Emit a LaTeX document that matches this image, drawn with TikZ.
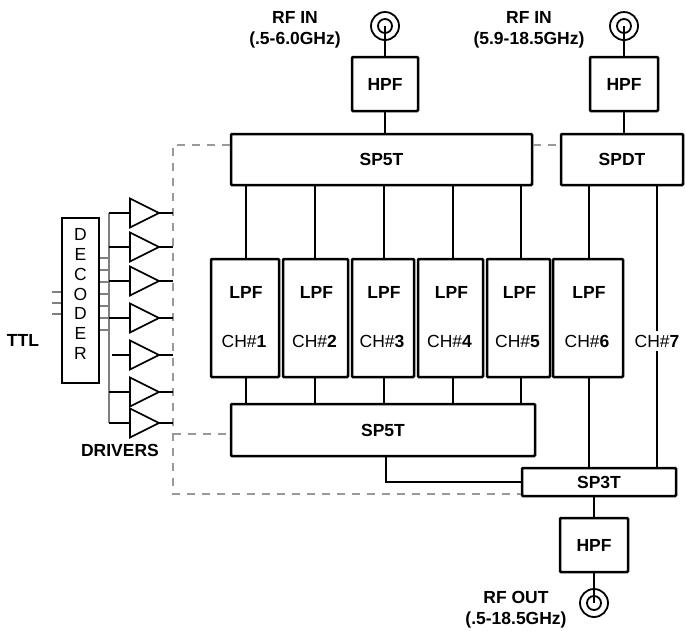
\documentclass[tikz,border=0pt]{standalone}
\usepackage{fontspec}
\setmainfont{Liberation Sans}
\usetikzlibrary{calc}
\newcommand\myfs{\fontsize{17.5}{20.5}\selectfont}
\newcommand\myfsdec{\fontsize{17.5}{19.7}\selectfont}
\begin{document}
\begin{tikzpicture}[x=1pt,y=-1pt,
  blk/.style={draw, line width=2.5pt, rounded corners=1pt, inner sep=0pt, font=\myfs\bfseries},
  wire/.style={line width=2.3pt},
  thinw/.style={line width=1.7pt},
  grayw/.style={line width=1.7pt, draw=gray},
  ctrl/.style={line width=1.1pt, draw=gray!80, dash pattern=on 8pt off 7pt},
  lbl/.style={font=\myfs\bfseries, inner sep=0pt, align=center},
  chl/.style={font=\myfs, inner sep=0pt},
  conn/.style={circle, draw, line width=1.8pt, inner sep=0pt},
]
\useasboundingbox (0,0) rectangle (686,630);

% connectors
\foreach \n/\x/\y in {c1/385/26, c2/624/26, c3/594/603}{
  \node[conn, minimum size=28pt] (\n) at (\x,\y) {};
  \node[conn, minimum size=14pt] (\n i) at (\x,\y) {};
}

% blocks
\node[blk, minimum width=66pt, minimum height=54pt] (hpf1) at (385,84) {HPF};
\node[blk, minimum width=68pt, minimum height=54pt] (hpf2) at (624,84) {HPF};
\node[blk, minimum width=301pt, minimum height=51pt] (sp5a) at (381.5,159.5) {SP5T};
\node[blk, minimum width=122pt, minimum height=51pt] (spdt) at (622,159.5) {SPDT};
\node[blk, minimum width=304pt, minimum height=52pt] (sp5b) at (383,430) {SP5T};
\node[blk, minimum width=154pt, minimum height=28pt] (sp3t) at (599,482) {SP3T};
\node[blk, minimum width=68pt, minimum height=54pt] (hpf3) at (594,545) {HPF};

\foreach \i/\l/\r in {1/211/279, 2/283/348, 3/352/414, 4/418/483, 5/487/550, 6/553/623}{
  \node[blk, minimum width={\r pt-\l pt}, minimum height=118pt] (lpf\i) at ({(\l+\r)/2},318) {};
  \node[lbl] (lpft\i) at ({(\l+\r)/2+1},292) {LPF};
  \node[chl] (cht\i) at ({(\l+\r)/2-1},341) {CH\#\textbf{\i}};
}

% channel x positions
\foreach \i/\x in {1/246,2/315,3/384,4/453,5/521,6/589,7/657}{
  \coordinate (chx\i) at (\x,0);
}
\foreach \i in {1,...,5}{
  \draw[wire] (sp5a.south -| chx\i) -- (lpf\i.north -| chx\i);
  \draw[wire] (lpf\i.south -| chx\i) -- (sp5b.north -| chx\i);
}
\draw[wire] (spdt.south -| chx6) -- (lpf6.north -| chx6);
\draw[wire] (lpf6.south -| chx6) -- (sp3t.north -| chx6);
\draw[wire] (spdt.south -| chx7) -- (sp3t.north -| chx7);
\node[chl, fill=white, inner xsep=1pt, inner ysep=4pt] (ch7) at (657,341) {CH\#\textbf{7}};

\coordinate (jx) at (386,0);
\draw[wire] (sp5b.south -| jx) |- (sp3t.west);

% RF path
\draw[wire] (c1.center) -- (hpf1.north);
\draw[wire] (hpf1.south) -- (sp5a.north -| hpf1.south);
\draw[wire] (c2.center) -- (hpf2.north);
\draw[wire] (hpf2.south) -- (spdt.north -| hpf2.south);
\draw[wire] (sp3t.south -| hpf3.north) -- (hpf3.north);
\draw[wire] (hpf3.south) -- (c3.center);

% control (dashed)
\coordinate (dtl) at (173,145);
\coordinate (dml) at (173,434);
\coordinate (dbl) at (173,494);
\draw[ctrl] (sp5a.west |- dtl) -- (dtl) -- (dbl) -- (sp3t.west |- dbl);
\draw[ctrl] (dml) -- (sp5b.west |- dml);
\draw[ctrl] (sp5a.east |- dtl) -- (spdt.west |- dtl);

% decoder
\node[draw, line width=1.7pt, minimum width=37pt, minimum height=165pt, inner sep=0pt] (dec) at (80.5,300.5) {};
\node[font=\myfsdec, align=center, inner sep=0pt] (dect) at (80.5,294) {D\\E\\C\\O\\D\\E\\R};
\foreach \y in {292,303,314}{
  \coordinate (t\y) at (52,\y);
  \draw[grayw] (t\y) -- (dec.west |- t\y);
}
\coordinate (busT) at (109,213);
\coordinate (busB) at (109,423);
\foreach \y in {258,270,282,294,306,318,330}{
  \coordinate (s\y) at (109,\y);
  \draw[grayw] (dec.east |- s\y) -- (s\y);
}
\draw[grayw] (busT) -- (busB);

% drivers
\foreach \i/\y/\s in {1/213/109,2/247/109,3/281/109,4/318/109,5/355/112,6/392/109,7/423/109}{
  \coordinate (din\i) at (130,\y);
  \coordinate (dout\i) at (159,\y);
  \coordinate (dsrc\i) at (\s,\y);
  \coordinate (dctl\i) at (173,\y);
  \draw[thinw, line join=miter] (130,\y-14.5) -- (dout\i) -- (130,\y+14.5) -- cycle;
  \draw[thinw] (dsrc\i) -- (din\i);
  \draw[thinw] (dout\i) -- (dctl\i);
}

% labels
\node[lbl] (rfin1) at (295,30) {RF IN\\(.5-6.0GHz)};
\node[lbl] (rfin2) at (529,30) {RF IN\\(5.9-18.5GHz)};
\node[lbl] (rfout) at (516,609.5) {RF OUT\\(.5-18.5GHz)};
\node[lbl] (ttl) at (23,340) {TTL};
\node[lbl] (drv) at (120,450) {DRIVERS};
\end{tikzpicture}
\end{document}
